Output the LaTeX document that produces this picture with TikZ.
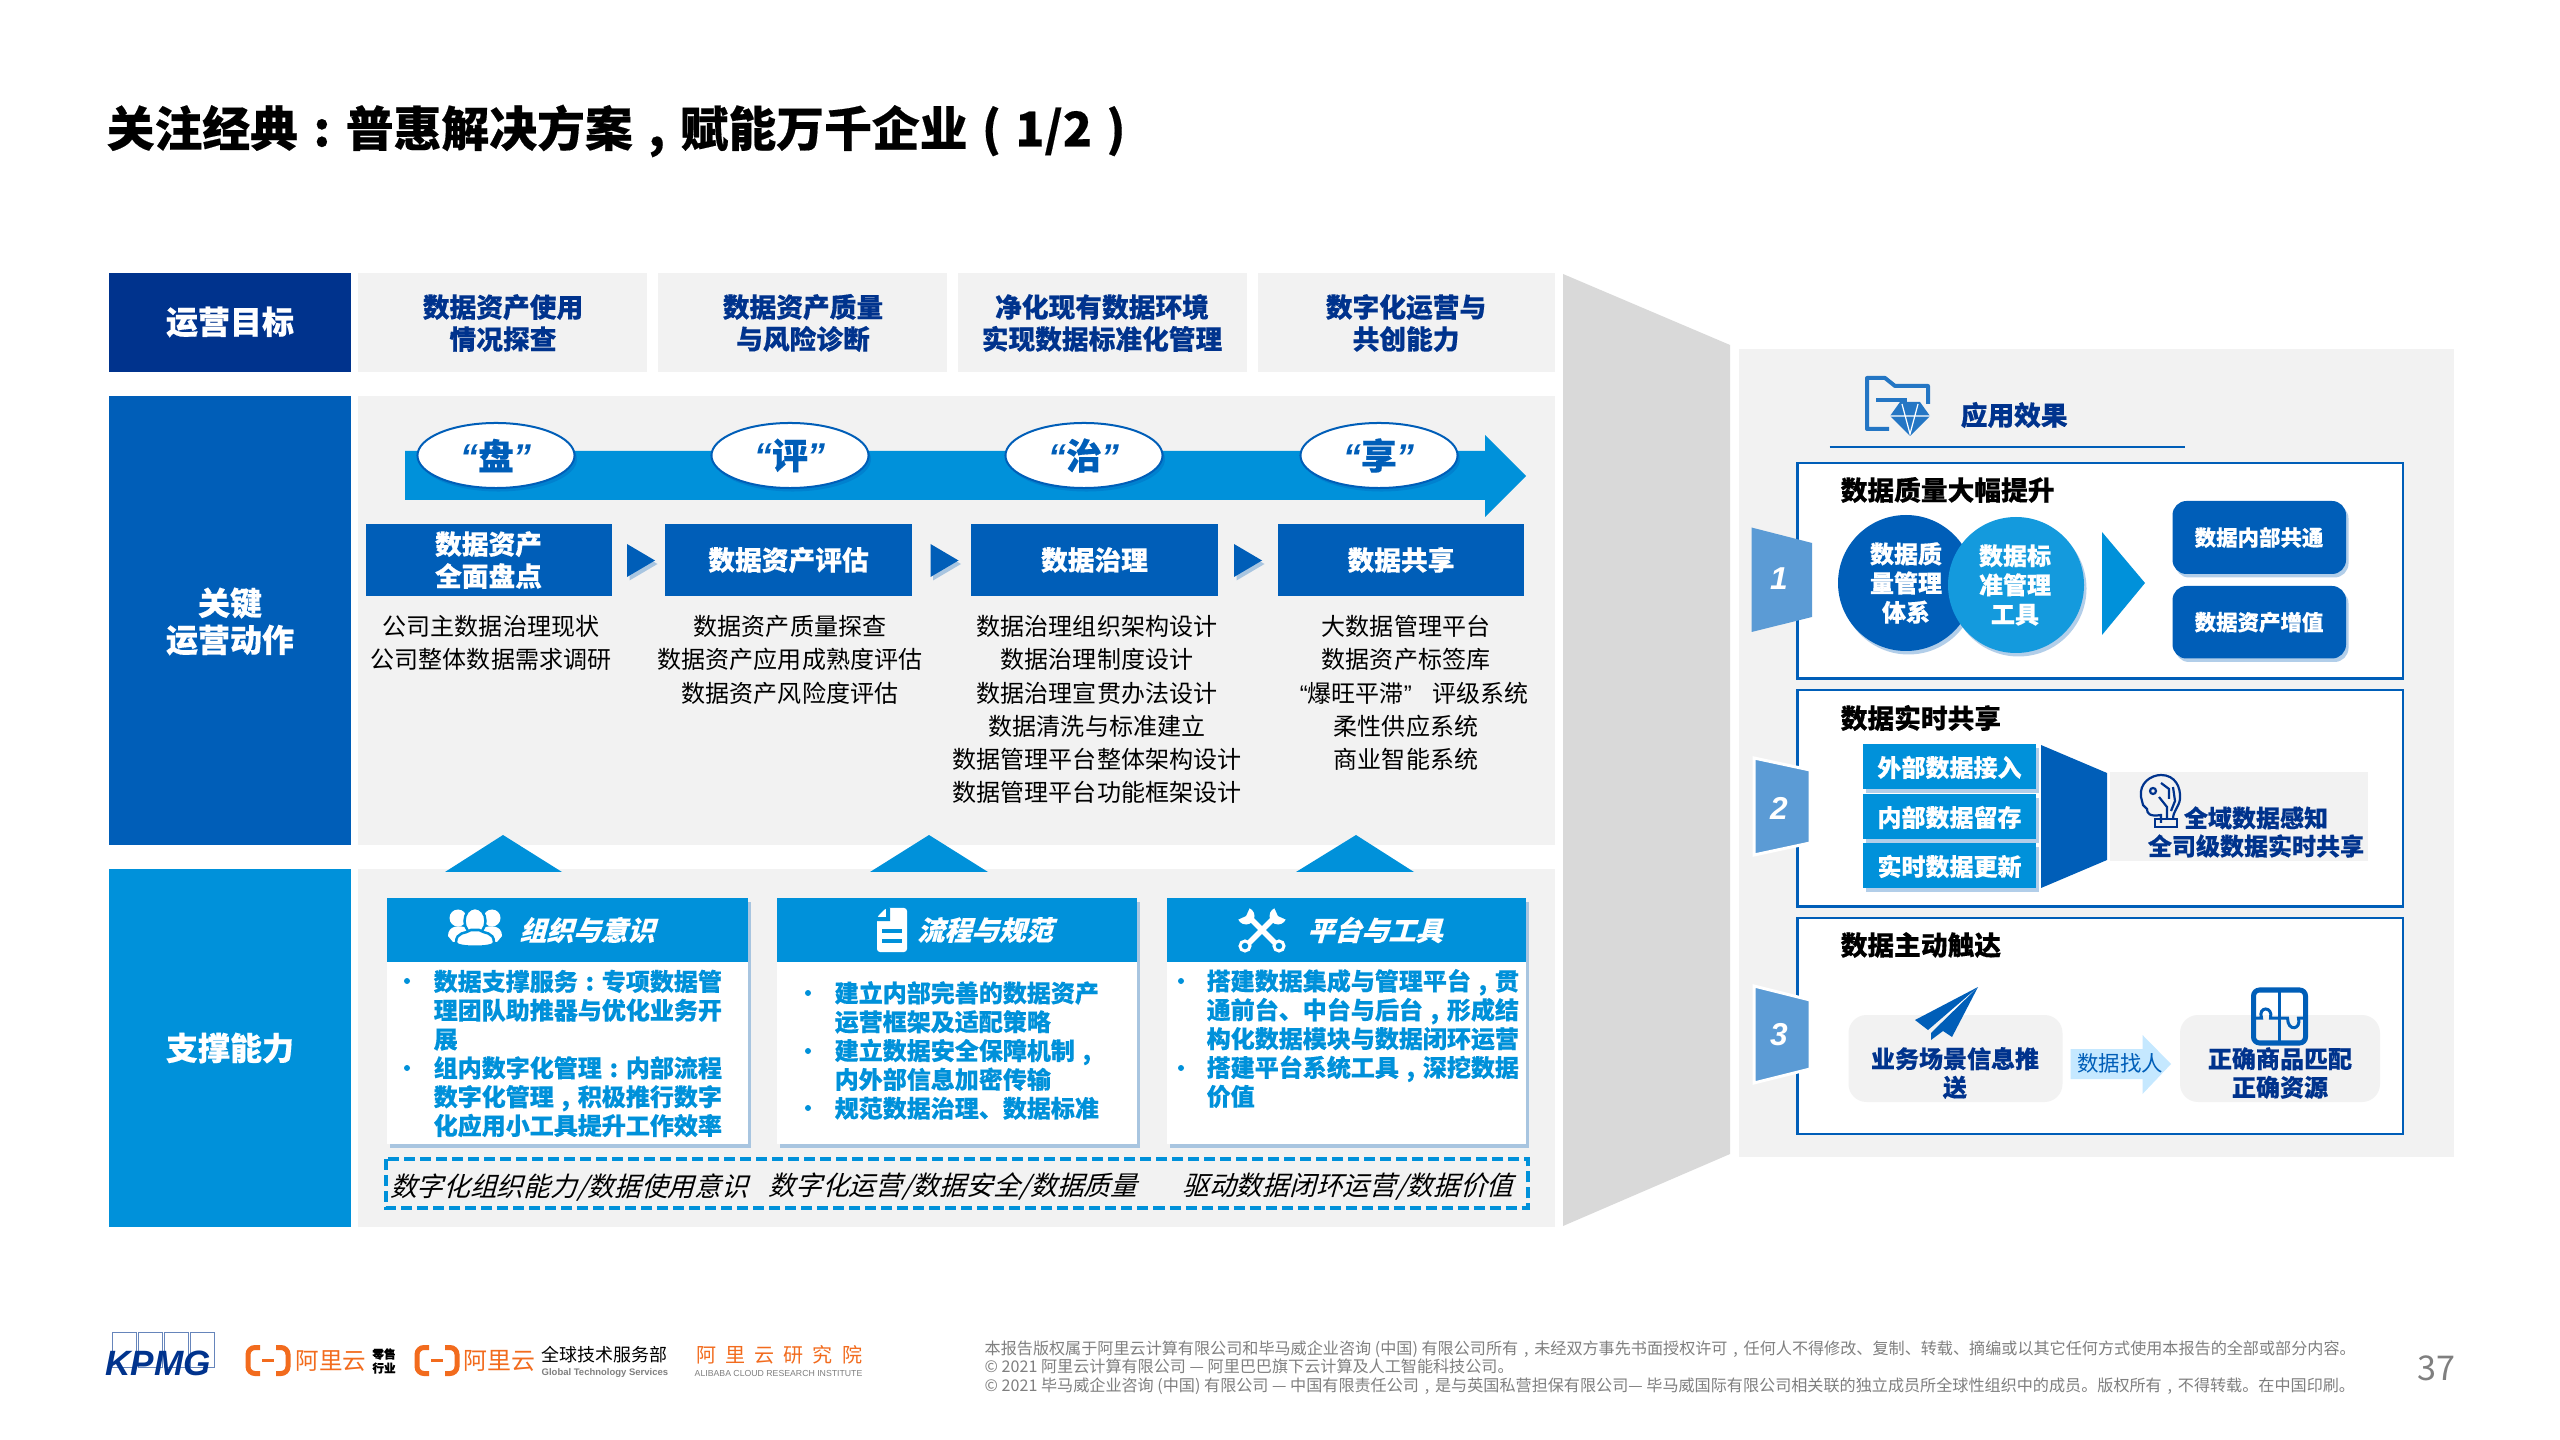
\documentclass[tikz,border=0pt]{standalone}
\usepackage{fontspec}
\setmainfont[BoldFeatures={FakeBold=0.35}]{Noto Sans CJK SC}
\newfontfamily\slantfont[FakeSlant=0.28,BoldFeatures={FakeBold=0.35}]{Noto Sans CJK SC}
\newfontfamily\latinfont{Liberation Sans}
\usetikzlibrary{shadows,shapes.geometric}
\definecolor{kdark}{HTML}{00338D}
\definecolor{kmid}{HTML}{005EB8}
\definecolor{klight}{HTML}{0091DA}
\definecolor{kgray}{HTML}{F2F2F2}
\definecolor{ktab}{HTML}{5B9BD5}
\definecolor{kside}{HTML}{D9D9D9}
\definecolor{kpale}{HTML}{C5E8FF}
\definecolor{korange}{HTML}{F26B1D}
\definecolor{kfoot}{HTML}{7F7F7F}
\newcommand\cjkbox[1]{\makebox[1em][c]{#1}}
\tikzset{
    softshade/.style={drop shadow={shadow xshift=0.025cm,shadow yshift=-0.035cm,opacity=.3,fill=kmid}},
    rowtext/.style={text=white,font=\bfseries\fontsize{9.1}{10.5}\selectfont,align=center,inner sep=0pt},
    goaltext/.style={text=kdark,font=\bfseries\fontsize{7.6}{9.1}\selectfont,align=center,inner sep=0pt},
    steptext/.style={text=white,font=\bfseries\fontsize{7.6}{9.1}\selectfont,align=center,inner sep=0pt},
    plaintext/.style={text=black,font=\fontsize{6.83}{9.47}\selectfont,align=center,inner sep=0pt,anchor=north},
    ovaltext/.style={ellipse,draw=kmid,line width=.02cm,fill=white,minimum width=1.57cm,minimum height=.65cm,inner sep=0pt,
        text=kmid,font=\bfseries\fontsize{10.2}{12}\selectfont,softshade},
    cardhead/.style={text=white,font=\slantfont\bfseries\fontsize{7.7}{9}\selectfont,inner sep=0pt},
    cardtext/.style={text=klight,font=\bfseries\fontsize{6.83}{8.2}\selectfont,align=left,inner sep=0pt,anchor=west},
    slanttext/.style={text=black,font=\slantfont\fontsize{7.6}{9}\selectfont,inner sep=0pt},
    boxtitle/.style={text=black,font=\bfseries\fontsize{7.6}{9}\selectfont,inner sep=0pt,anchor=west},
    whitetext/.style={text=white,font=\bfseries\fontsize{6.83}{8.3}\selectfont,align=center,inner sep=0pt},
    darktext/.style={text=kdark,font=\bfseries\fontsize{6.83}{8.1}\selectfont,align=center,inner sep=0pt},
    numtext/.style={text=white,font=\latinfont\bfseries\itshape\fontsize{9}{10}\selectfont,inner sep=0pt},
    foottext/.style={text=kfoot,font=\fontsize{4.58}{5.4}\selectfont,inner sep=0pt,anchor=west},
    aliicon/.pic={
        \draw[line width=.05cm,rounded corners=.07cm] (-8,-13) -- (-20,-13) -- (-20,13) -- (-8,13);
        \draw[line width=.05cm,rounded corners=.07cm] (8,-13) -- (20,-13) -- (20,13) -- (8,13);
        \draw[line width=.03cm] (-6,0) -- (6,0);
    }
}
\begin{document}
\begin{tikzpicture}[x=0.01cm,y=-0.01cm]
    \useasboundingbox[fill=white] (0,0) rectangle (2560,1440);

    \node[anchor=west,inner sep=0pt,text=black,font=\bfseries\fontsize{13.6}{15}\selectfont] (title) at (106,131) {关注经典\cjkbox{:}普惠解决方案\cjkbox{,}赋能万千企业\cjkbox{(}1/2\cjkbox{)}};

    % left column
    \fill[kdark] (109,273) rectangle (351,372);
    \fill[kmid] (109,396) rectangle (351,845);
    \fill[klight] (109,869) rectangle (351,1227);
    \node[rowtext] (rowgoal) at (230,322) {运营目标};
    \node[rowtext] (rowact) at (230,621.5) {关键\\运营动作};
    \node[rowtext] (rowsup) at (230,1048) {支撑能力};

    % goals
    \foreach \xa/\xb/\xc/\txt in {358/647/503/{数据资产使用\\情况探查},658/947/803/{数据资产质量\\与风险诊断},958/1247/1102/{净化现有数据环境\\实现数据标准化管理},1258/1555/1406/{数字化运营与\\共创能力}}{
        \fill[kgray] (\xa,273) rectangle (\xb,372);
        \node[goaltext] (goal\xa) at (\xc,323) {\txt};
    }
    \fill[kgray] (358,396) rectangle (1555,845);
    \fill[kgray] (358,869) rectangle (1555,1227);
    \fill[kside] (1563,274) -- (1730,345) -- (1730,1154) -- (1563,1226) -- cycle;

    % main arrow
    \fill[klight] (405,451) -- (1485,451) -- (1485,435) -- (1526,476) -- (1485,517) -- (1485,500) -- (405,500) -- cycle;
    \foreach \name/\x/\txt in {pan/496/盘,ping/790/评,zhi/1084/治,xiang/1379/享}{
        \node[ovaltext] (\name) at (\x,455.5) {\raisebox{-.5pt}{{\latinfont\bfseries\itshape “}\txt{\latinfont\bfseries\itshape ”}}};
    }

    % steps
    \foreach \xa/\xb/\txt in {365.5/611.5/{数据资产\\全面盘点},665/912/数据资产评估,971/1218/数据治理,1278/1524/数据共享}{
        \fill[kmid] (\xa,524) rectangle (\xb,596);
        \node[steptext] (step\xa) at ({(\xa+\xb)/2},560) {\txt};
    }
    \foreach \x in {627,930.5,1234}{
        \fill[kmid,softshade] (\x,544) -- (\x+28,560.5) -- (\x,577) -- cycle;
    }
    \node[plaintext] (actA) at (491,614.5) {公司主数据治理现状\\公司整体数据需求调研};
    \node[plaintext] (actB) at (790,614.5) {数据资产质量探查\\数据资产应用成熟度评估\\数据资产风险度评估};
    \node[plaintext] (actC) at (1097,614.5) {数据治理组织架构设计\\数据治理制度设计\\数据治理宣贯办法设计\\数据清洗与标准建立\\数据管理平台整体架构设计\\数据管理平台功能框架设计};
    \node[plaintext] (actD) at (1406,614.5) {大数据管理平台\\数据资产标签库\\\hspace*{.67em}{\latinfont “}爆旺平滞{\latinfont ”}\hspace{.85em}评级系统\\柔性供应系统\\商业智能系统};

    % up triangles
    \fill[klight] (445,872) -- (503,835) -- (562,872) -- cycle;
    \fill[klight] (870,872) -- (929,835) -- (988,872) -- cycle;
    \fill[klight] (1296,872) -- (1356,835) -- (1414,872) -- cycle;

    % cards
    \foreach \xa/\xb in {387/748,777/1137,1167/1526}{
        \fill[white,softshade] (\xa,898) rectangle (\xb,1144);
        \fill[klight] (\xa,898) rectangle (\xb,962);
    }
    \node[cardhead] (headA) at (587,930) {组织与意识};
    \node[cardhead] (headB) at (985,930) {流程与规范};
    \node[cardhead] (headC) at (1375,930) {平台与工具};

    % people icon
    \begin{scope}[shift={(475,928)},white]
        \fill (-17,-10) circle (8.5);
        \fill (17,-10) circle (8.5);
        \fill (-27,8) .. controls (-27,-3) and (-15,-3) .. (-8,0) -- (-8,12) -- (-22,14) -- cycle;
        \fill (27,8) .. controls (27,-3) and (15,-3) .. (8,0) -- (8,12) -- (22,14) -- cycle;
        \draw[klight,fill=white,line width=.025cm] (0,-7) ellipse (10.5 and 13);
        \draw[klight,fill=white,line width=.025cm] (-19,15) .. controls (-19,3) and (-9,6) .. (-4,2) -- (4,2) .. controls (9,6) and (19,3) .. (19,15) .. controls (19,20) and (-19,20) .. (-19,15) -- cycle;
    \end{scope}

    % document icon
    \begin{scope}[shift={(892,930)}]
        \fill[white,rounded corners=.03cm] (-6,-22) -- (15,-22) -- (15,22) -- (-15,22) -- (-15,-13) -- cycle;
        \fill[klight] (-15,-13) -- (-6,-13) -- (-6,-22) -- (-2,-22) -- (-2,-9) -- (-15,-9) -- cycle;
        \fill[klight] (-10,-1) rectangle (10,3);
        \fill[klight] (-10,9) rectangle (10,13);
    \end{scope}

    % wrench icon
    \begin{scope}[shift={(1262,930)},white]
        \foreach \s in {1,-1}{
            \draw[line width=.055cm] (-15*\s,15) -- (14*\s,-14);
            \fill (16*\s,-14) circle (8.5);
            \fill[klight] (16*\s,-14) -- (11*\s,-25) -- (27*\s,-25) -- (27*\s,-9) -- cycle;
            \draw[line width=.03cm,fill=klight] (-17*\s,16) circle (5);
        }
    \end{scope}

    % dashed band
    \draw[klight,line width=.04cm,dash pattern=on .11cm off .05cm] (386,1159) rectangle (1528,1208);
    \node[slanttext] (bandA) at (569,1188) {数字化组织能力/数据使用意识};
    \node[slanttext] (bandB) at (953,1187) {数字化运营/数据安全/数据质量};
    \node[slanttext] (bandC) at (1348,1187) {驱动数据闭环运营/数据价值};

    % card texts
    \node[cardtext] (textA) at (433,1053.5) {数据支撑服务\cjkbox{:}专项数据管\\理团队助推器与优化业务开\\展\\组内数字化管理\cjkbox{:}内部流程\\数字化管理\cjkbox{,}积极推行数字\\化应用小工具提升工作效率};
    \node[cardtext] (textB) at (834,1050.5) {建立内部完善的数据资产\\运营框架及适配策略\\建立数据安全保障机制\cjkbox{,}\\内外部信息加密传输\\规范数据治理、数据标准};
    \node[cardtext] (textC) at (1206,1038.5) {搭建数据集成与管理平台\cjkbox{,}贯\\通前台、中台与后台\cjkbox{,}形成结\\构化数据模块与数据闭环运营\\搭建平台系统工具\cjkbox{,}深挖数据\\价值};
    \foreach \x/\y in {407/981,407/1068,808/993,808/1051,808/1108,1181/981,1181/1068}{
        \fill[klight] (\x,\y) circle (3);
    }

    % right panel
    \fill[kgray] (1739,349) rectangle (2454,1157);
    \node[inner sep=0pt,text=kdark,font=\bfseries\fontsize{7.6}{9}\selectfont,anchor=west] (effect) at (1960,415) {应用效果};
    \draw[kmid,line width=.025cm] (1829.5,447) -- (2184.5,447);

    % folder icon
    \begin{scope}[shift={(1865,376)}]
        \draw[ktab!40!kmid,line width=.04cm,line join=round] (24,53) -- (2,53) -- (2,2) -- (20,2) -- (30,10) -- (63,10) -- (63,28);
        \draw[ktab!40!kmid,line width=.035cm] (11,24) -- (42,24);
        \fill[ktab!40!kmid] (25,40) -- (35,26) -- (55,26) -- (65,40) -- (45,60) -- cycle;
        \draw[white,line width=.012cm] (25,40) -- (65,40) (37,28) -- (45,58) -- (53,28);
    \end{scope}

    \foreach \ya/\yb in {463/678.5,690/906.5,918/1134}{
        \draw[kmid,line width=.025cm,fill=white] (1797.5,\ya) rectangle (2403,\yb);
    }
    \node[boxtitle] (boxA) at (1840,490) {数据质量大幅提升};
    \node[boxtitle] (boxB) at (1840,718) {数据实时共享};
    \node[boxtitle] (boxC) at (1840,945) {数据主动触达};

    % tabs
    \fill[ktab] (1751.5,527.5) -- (1812,543) -- (1812,617) -- (1751.5,632) -- cycle;
    \filldraw[fill=ktab,draw=white,line width=.03cm] (1754,758) -- (1810,770) -- (1810,843) -- (1754,855) -- cycle;
    \filldraw[fill=ktab,draw=white,line width=.03cm] (1754,986) -- (1810,1000) -- (1810,1069) -- (1754,1083) -- cycle;
    \node[numtext] (numA) at (1779,579) {1};
    \node[numtext] (numB) at (1779,808) {2};
    \node[numtext] (numC) at (1779,1035) {3};

    % box one
    \fill[kmid,softshade] (1906,583) circle (68);
    \fill[klight!92!white,softshade] (2016,585) circle (68);
    \node[whitetext] (circA) at (1906,583) {数据质\\量管理\\体系};
    \node[whitetext] (circB) at (2015,585) {数据标\\准管理\\工具};
    \fill[klight] (2102,532) -- (2145,583) -- (2102,635) -- cycle;
    \foreach \name/\ya/\yb/\txt in {shareA/501/574/数据内部共通,shareB/586/658.5/数据资产增值}{
        \fill[kmid,rounded corners=.14cm,softshade] (2172.5,\ya) rectangle (2346,\yb);
        \node[whitetext,font=\bfseries\fontsize{6.1}{7.5}\selectfont] (\name) at (2259,{(\ya+\yb)/2}) {\txt};
    }

    % box two
    \foreach \name/\ya/\yb/\txt in {feedA/744/789/外部数据接入,feedB/794/839/内部数据留存,feedC/843/888/实时数据更新}{
        \fill[klight,softshade] (1863,\ya) rectangle (2036,\yb);
        \node[whitetext] (\name) at (1949.5,{(\ya+\yb)/2+1}) {\txt};
    }
    \fill[kmid] (2041,745) -- (2107,773) -- (2107,860) -- (2041,888) -- cycle;
    \fill[kgray] (2110,772) rectangle (2368,861);
    \node[darktext] (senseA) at (2256,818) {全域数据感知};
    \node[darktext] (senseB) at (2256,846) {全司级数据实时共享};

    % head icon
    \begin{scope}[shift={(2139,775)},kdark,line width=.022cm]
        \draw (22,48) -- (22,40) .. controls (10,42) and (8,38) .. (8,34) -- (4,30) -- (2,22) .. controls (0,8) and (12,0) .. (22,0) .. controls (36,0) and (42,12) .. (41,24) .. controls (40,32) and (34,36) .. (34,44);
        \draw (16,52) -- (16,44) -- (38,44) -- (38,52) -- cycle;
        \draw (22,8) -- (30,14) -- (30,24) (14,16) circle (3) (20,22) -- (28,32) -- (28,44) (34,12) -- (36,26) -- (32,36);
    \end{scope}

    % box three
    \fill[kgray,rounded corners=.18cm] (1848.5,1015) rectangle (2062.5,1102);
    \fill[kgray,rounded corners=.18cm] (2180,1015) rectangle (2380,1102);
    \node[darktext] (pushA) at (1955,1073) {业务场景信息推\\送};
    \node[darktext] (pushB) at (2280,1073) {正确商品匹配\\正确资源};
    \fill[kpale] (2070.5,1049) -- (2142.5,1049) -- (2142.5,1035) -- (2171,1064) -- (2142.5,1094) -- (2142.5,1079) -- (2070.5,1079) -- cycle;
    \node[inner sep=0pt,text=kmid,font=\fontsize{6.1}{7.5}\selectfont] (findA) at (2120,1063) {数据找人};

    % plane icon
    \fill[kmid] (1978,987) -- (1915,1020) -- (1928,1030) -- cycle;
    \fill[kmid] (1978,987) -- (1931,1033) -- (1931,1040) -- (1943,1031) -- (1952,1037) -- cycle;

    % puzzle icon
    \begin{scope}[shift={(2251.5,988)},kmid]
        \draw[line width=.05cm,rounded corners=.06cm] (2,2) rectangle (54,55);
        \draw[line width=.035cm] (28,2) -- (28,55);
        \draw[line width=.03cm] (2,30) -- (10,30) .. controls (6,18) and (22,18) .. (19,30) -- (28,30);
        \draw[line width=.03cm] (28,30) -- (36,30) .. controls (36,44) and (50,42) .. (47,30) -- (54,30);
    \end{scope}

    % footer logos
    \foreach \x in {112.5,138.5,164,190}{
        \draw[kdark!60!white,line width=.008cm] (\x,1332) rectangle (\x+24,1367);
    }
    \node[inner sep=0pt,text=kdark,font=\latinfont\bfseries\itshape\fontsize{10}{11}\selectfont] (kpmg) at (158,1363) {KPMG};
    \pic[korange] at (268,1360.5) {aliicon};
    \node[inner sep=0pt,anchor=west,text=korange,font=\fontsize{6.7}{8}\selectfont] (aliA) at (295,1361) {阿里云};
    \node[inner sep=0pt,text=black,align=center,font=\bfseries\fontsize{3.3}{4}\selectfont] (aliB) at (384,1361) {零售\\行业};
    \pic[korange] at (437,1360.5) {aliicon};
    \node[inner sep=0pt,anchor=west,text=korange,font=\fontsize{6.8}{8}\selectfont] (aliC) at (463,1361) {阿里云};
    \node[inner sep=0pt,anchor=west,text=black,font=\fontsize{5.1}{6}\selectfont] (aliD) at (541,1355) {全球技术服务部};
    \node[inner sep=0pt,anchor=west,text=kfoot,font=\latinfont\bfseries\fontsize{2.7}{3}\selectfont] (aliE) at (541,1373) {Global Technology Services};
    \node[inner sep=0pt,anchor=west,text=korange,font=\fontsize{5.7}{7}\selectfont\addfontfeature{LetterSpace=45}] (aliF) at (696,1355) {阿里云研究院};
    \node[inner sep=0pt,anchor=west,text=kfoot,font=\latinfont\fontsize{2.48}{3}\selectfont] (aliG) at (694,1373) {ALIBABA CLOUD RESEARCH INSTITUTE};

    % footer text
    \node[foottext] (footA) at (984,1349) {本报告版权属于阿里云计算有限公司和毕马威企业咨询 (中国) 有限公司所有\cjkbox{,}未经双方事先书面授权许可\cjkbox{,}任何人不得修改、复制、转载、摘编或以其它任何方式使用本报告的全部或部分内容。};
    \node[foottext] (footB) at (984,1366) {© 2021 阿里云计算有限公司 — 阿里巴巴旗下云计算及人工智能科技公司。};
    \node[foottext] (footC) at (984,1386) {© 2021 毕马威企业咨询 (中国) 有限公司 — 中国有限责任公司\cjkbox{,}是与英国私营担保有限公司— 毕马威国际有限公司相关联的独立成员所全球性组织中的成员。版权所有\cjkbox{,}不得转载。在中国印刷。};
    \node[inner sep=0pt,text=kfoot,font=\fontsize{9.7}{11}\selectfont] (page) at (2436,1368) {37};
\end{tikzpicture}
\end{document}
